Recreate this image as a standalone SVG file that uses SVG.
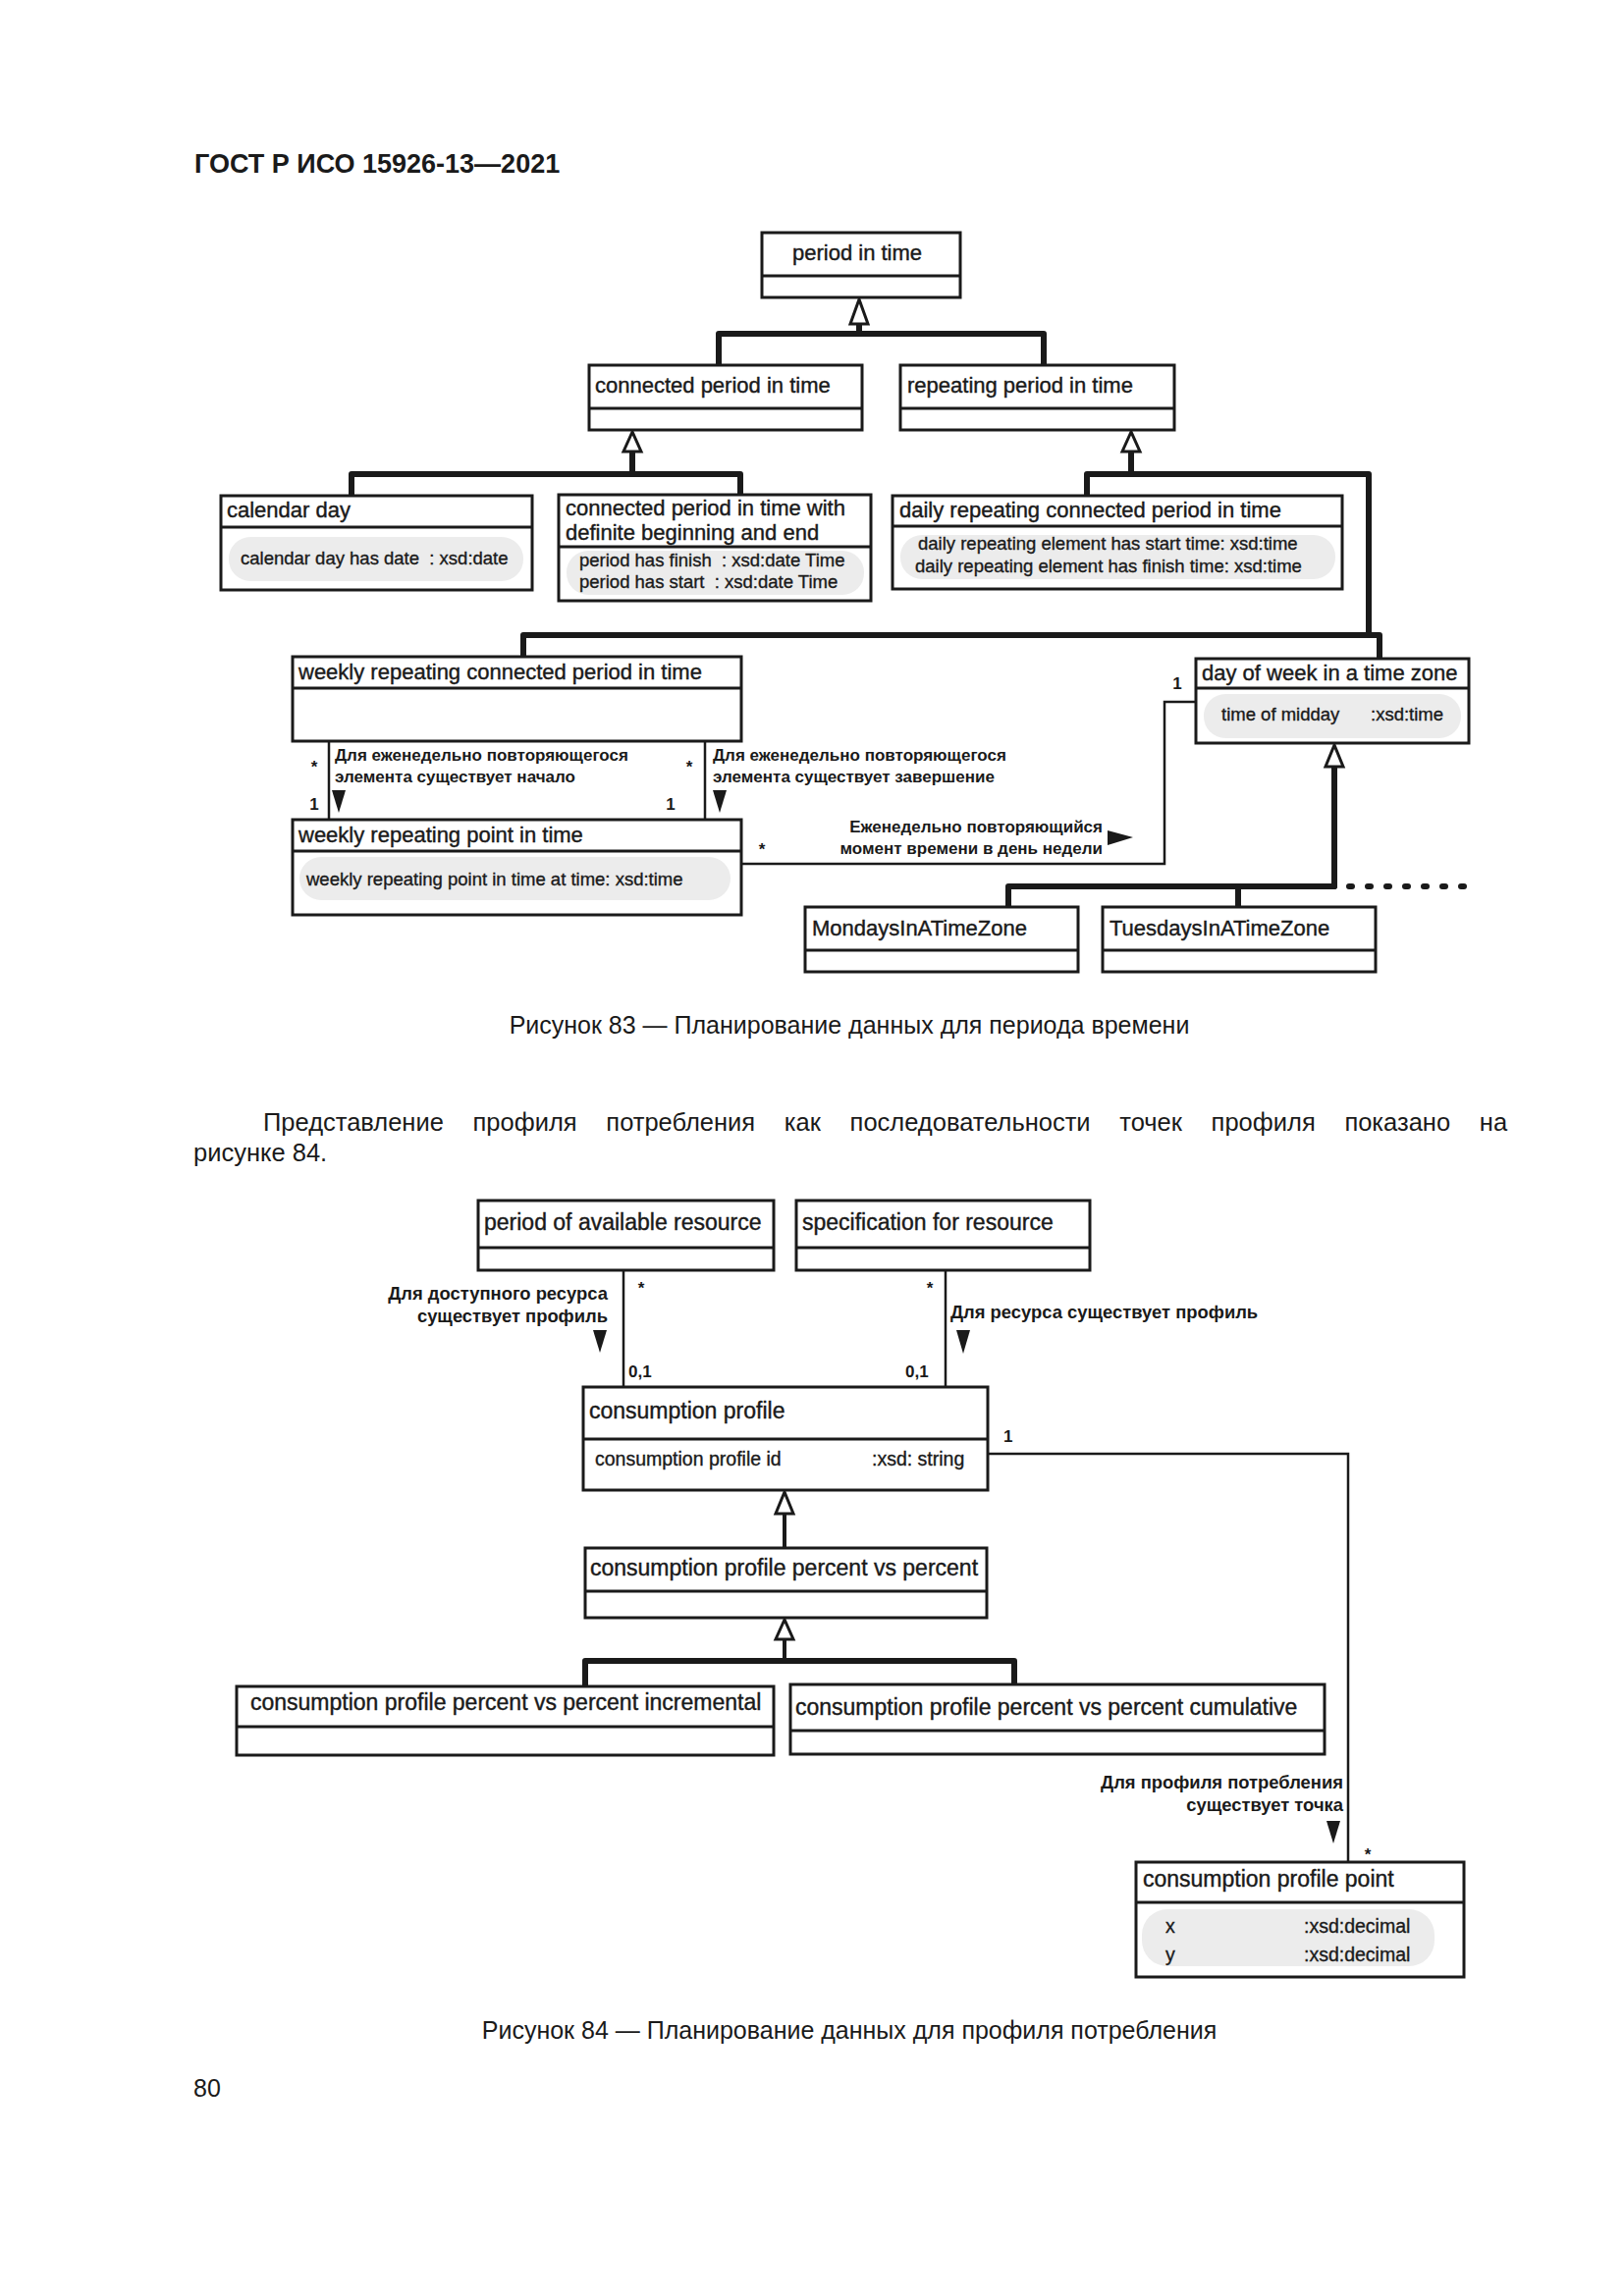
<svg xmlns="http://www.w3.org/2000/svg" width="1654" height="2339" viewBox="0 0 1654 2339">
<style>
.bg{fill:#fff}
.box{fill:#fff;stroke:#1a1a1a;stroke-width:3}
.dv{stroke:#1a1a1a;stroke-width:3}
.abg{fill:#ececec}
text{font-family:"Liberation Sans",Arial,sans-serif;fill:#1a1a1a}
.ttl{font-size:22px;stroke:#1a1a1a;stroke-width:0.4}
.ttl84{font-size:23px;stroke:#1a1a1a;stroke-width:0.4}
.attr{font-size:18.5px;stroke:#1a1a1a;stroke-width:0.35}
.attr84{font-size:19.5px;stroke:#1a1a1a;stroke-width:0.35}
.lbl{font-size:17px;font-weight:bold}
.lbl84{font-size:18.4px;font-weight:bold}
.mult{font-size:17px;font-weight:bold}
.gen{fill:none;stroke:#1a1a1a;stroke-width:6;stroke-linejoin:round;stroke-linecap:round}
.gen4{fill:none;stroke:#1a1a1a;stroke-width:4}
.dots{fill:none;stroke:#1a1a1a;stroke-width:6;stroke-linecap:round;stroke-dasharray:3 16}
.assoc{fill:none;stroke:#1a1a1a;stroke-width:2.5}
.hollow{fill:#fff;stroke:#1a1a1a;stroke-width:3}
.nav{fill:#1a1a1a}
.page{font-size:25px}
.body{font-size:25.5px}
</style>
<rect class="bg" x="0" y="0" width="1654" height="2339"/>
<text x="198" y="176" style="font-size:27px;font-weight:bold">ГОСТ Р ИСО 15926-13—2021</text>

<g id="connectors">
  <!-- figure 83 generalizations -->
  <path class="gen" d="M732,372 V340 H1063 V372"/>
  <path class="gen" d="M875,330 V340"/>
  <polygon class="hollow" points="875,305 866,330 884,330"/>
  <path class="gen" d="M358,505 V483 H754 V505"/>
  <path class="gen" d="M644,460 V483"/>
  <polygon class="hollow" points="644,440 635,460 653,460"/>
  <path class="gen" d="M1107,505 V483 H1394 V647"/>
  <path class="gen" d="M1152,460 V483"/>
  <polygon class="hollow" points="1152,440 1143,460 1161,460"/>
  <path class="gen" d="M533,669 V647 H1405 V671"/>
  <path class="gen" d="M1359,781 V903"/>
  <path class="gen" d="M1027,924 V903 H1359"/>
  <path class="gen" d="M1261,903 V924"/>
  <path class="dots" d="M1374,903 H1500"/>
  <polygon class="hollow" points="1359,759 1350,781 1368,781"/>
  <!-- figure 83 associations -->
  <path class="assoc" d="M335,755 V835"/>
  <path class="assoc" d="M718,755 V835"/>
  <path class="assoc" d="M755,880 H1186 V715 H1218"/>
  <polygon class="nav" points="338,805 352,805 345,828"/>
  <polygon class="nav" points="726,805 740,805 733,828"/>
  <polygon class="nav" points="1128,846 1128,861 1154,853"/>
  <!-- figure 84 associations -->
  <path class="assoc" d="M635,1294 V1413"/>
  <path class="assoc" d="M963,1294 V1413"/>
  <path class="assoc" d="M1006,1481 H1373 V1897"/>
  <polygon class="nav" points="604,1355 618,1355 611,1378"/>
  <polygon class="nav" points="974,1355 988,1355 981,1379"/>
  <polygon class="nav" points="1351,1855 1365,1855 1358,1878"/>
  <!-- figure 84 generalizations -->
  <path class="gen4" d="M799,1542 V1577"/>
  <polygon class="hollow" points="799,1520 790,1542 808,1542"/>
  <path class="gen4" d="M799,1670 V1692"/>
  <path class="gen" d="M596,1718 V1692 H1033 V1716"/>
  <polygon class="hollow" points="799,1650 790,1670 808,1670"/>
</g>

<g id="labels">
  <text class="lbl" x="341" y="775">Для еженедельно повторяющегося</text>
  <text class="lbl" x="341" y="797">элемента существует начало</text>
  <text class="lbl" x="726" y="775">Для еженедельно повторяющегося</text>
  <text class="lbl" x="726" y="797">элемента существует завершение</text>
  <text class="mult" x="320" y="787" text-anchor="middle">*</text>
  <text class="mult" x="320" y="825" text-anchor="middle">1</text>
  <text class="mult" x="702" y="787" text-anchor="middle">*</text>
  <text class="mult" x="683" y="825" text-anchor="middle">1</text>
  <text class="lbl" x="1123" y="848" text-anchor="end">Еженедельно повторяющийся</text>
  <text class="lbl" x="1123" y="870" text-anchor="end">момент времени в день недели</text>
  <text class="mult" x="776" y="871" text-anchor="middle">*</text>
  <text class="mult" x="1199" y="702" text-anchor="middle">1</text>

  <text class="lbl84" x="619" y="1324" text-anchor="end">Для доступного ресурса</text>
  <text class="lbl84" x="619" y="1347" text-anchor="end">существует профиль</text>
  <text class="mult" x="653" y="1318" text-anchor="middle">*</text>
  <text class="mult" x="640" y="1403">0,1</text>
  <text class="mult" x="947" y="1318" text-anchor="middle">*</text>
  <text class="mult" x="922" y="1403">0,1</text>
  <text class="lbl84" x="968" y="1343">Для ресурса существует профиль</text>
  <text class="mult" x="1022" y="1469">1</text>
  <text class="lbl84" x="1368" y="1822" text-anchor="end">Для профиля потребления</text>
  <text class="lbl84" x="1368" y="1845" text-anchor="end">существует точка</text>
  <text class="mult" x="1393" y="1895" text-anchor="middle">*</text>
</g>

<g id="period-in-time">
  <rect class="box" x="776" y="237" width="202" height="66"/>
  <line class="dv" x1="776" y1="281" x2="978" y2="281"/>
  <text class="ttl" x="807" y="265">period in time</text>
</g>
<g id="connected-period-in-time">
  <rect class="box" x="600" y="372" width="278" height="66"/>
  <line class="dv" x1="600" y1="416" x2="878" y2="416"/>
  <text class="ttl" x="606" y="400">connected period in time</text>
</g>
<g id="repeating-period-in-time">
  <rect class="box" x="917" y="372" width="279" height="66"/>
  <line class="dv" x1="917" y1="416" x2="1196" y2="416"/>
  <text class="ttl" x="924" y="400">repeating period in time</text>
</g>
<g id="calendar-day">
  <rect class="box" x="225" y="505" width="317" height="96"/>
  <line class="dv" x1="225" y1="537" x2="542" y2="537"/>
  <text class="ttl" x="231" y="527">calendar day</text>
  <rect class="abg" x="233" y="547" width="300" height="45" rx="22"/>
  <text class="attr" x="245" y="575" xml:space="preserve">calendar day has date  : xsd:date</text>
</g>
<g id="connected-period-definite">
  <rect class="box" x="569" y="504" width="318" height="108"/>
  <line class="dv" x1="569" y1="557" x2="887" y2="557"/>
  <text class="ttl" x="576" y="525">connected period in time with</text>
  <text class="ttl" x="576" y="550">definite beginning and end</text>
  <rect class="abg" x="577" y="561" width="303" height="45" rx="22"/>
  <text class="attr" x="590" y="577" xml:space="preserve">period has finish  : xsd:date Time</text>
  <text class="attr" x="590" y="599" xml:space="preserve">period has start  : xsd:date Time</text>
</g>
<g id="daily-repeating">
  <rect class="box" x="909" y="505" width="458" height="95"/>
  <line class="dv" x1="909" y1="536" x2="1367" y2="536"/>
  <text class="ttl" x="916" y="527">daily repeating connected period in time</text>
  <rect class="abg" x="917" y="545" width="443" height="45" rx="22"/>
  <text class="attr" x="935" y="560">daily repeating element has start time: xsd:time</text>
  <text class="attr" x="932" y="583">daily repeating element has finish time: xsd:time</text>
</g>
<g id="weekly-repeating-connected">
  <rect class="box" x="298" y="669" width="457" height="86"/>
  <line class="dv" x1="298" y1="701" x2="755" y2="701"/>
  <text class="ttl" x="304" y="692">weekly repeating connected period in time</text>
</g>
<g id="day-of-week">
  <rect class="box" x="1218" y="671" width="278" height="86"/>
  <line class="dv" x1="1218" y1="701" x2="1496" y2="701"/>
  <text class="ttl" x="1224" y="693">day of week in a time zone</text>
  <rect class="abg" x="1226" y="707" width="262" height="45" rx="22"/>
  <text class="attr" x="1244" y="734">time of midday</text>
  <text class="attr" x="1396" y="734">:xsd:time</text>
</g>
<g id="weekly-repeating-point">
  <rect class="box" x="298" y="835" width="457" height="97"/>
  <line class="dv" x1="298" y1="867" x2="755" y2="867"/>
  <text class="ttl" x="304" y="858">weekly repeating point in time</text>
  <rect class="abg" x="305" y="873" width="439" height="44" rx="22"/>
  <text class="attr" x="312" y="902">weekly repeating point in time at time: xsd:time</text>
</g>
<g id="mondays">
  <rect class="box" x="820" y="924" width="278" height="66"/>
  <line class="dv" x1="820" y1="968" x2="1098" y2="968"/>
  <text class="ttl" x="827" y="953">MondaysInATimeZone</text>
</g>
<g id="tuesdays">
  <rect class="box" x="1123" y="924" width="278" height="66"/>
  <line class="dv" x1="1123" y1="968" x2="1401" y2="968"/>
  <text class="ttl" x="1130" y="953">TuesdaysInATimeZone</text>
</g>

<text x="865" y="1053" text-anchor="middle" style="font-size:25px">Рисунок 83 — Планирование данных для периода времени</text>

<text class="body" x="268" y="1152" style="word-spacing:22.6px">Представление профиля потребления как последовательности точек профиля показано на</text>
<text class="body" x="197" y="1183">рисунке 84.</text>

<g id="period-of-available-resource">
  <rect class="box" x="487" y="1223" width="301" height="71"/>
  <line class="dv" x1="487" y1="1271" x2="788" y2="1271"/>
  <text class="ttl84" x="493" y="1253">period of available resource</text>
</g>
<g id="specification-for-resource">
  <rect class="box" x="811" y="1223" width="299" height="71"/>
  <line class="dv" x1="811" y1="1271" x2="1110" y2="1271"/>
  <text class="ttl84" x="817" y="1253">specification for resource</text>
</g>
<g id="consumption-profile">
  <rect class="box" x="594" y="1413" width="412" height="105"/>
  <line class="dv" x1="594" y1="1466" x2="1006" y2="1466"/>
  <text class="ttl84" x="600" y="1445">consumption profile</text>
  <text class="attr84" x="606" y="1493">consumption profile id</text>
  <text class="attr84" x="888" y="1493">:xsd: string</text>
</g>
<g id="cp-percent-vs-percent">
  <rect class="box" x="596" y="1577" width="409" height="71"/>
  <line class="dv" x1="596" y1="1621" x2="1005" y2="1621"/>
  <text class="ttl84" x="601" y="1605">consumption profile percent vs percent</text>
</g>
<g id="cp-incremental">
  <rect class="box" x="241" y="1718" width="547" height="70"/>
  <line class="dv" x1="241" y1="1759" x2="788" y2="1759"/>
  <text class="ttl84" x="255" y="1742">consumption profile percent vs percent incremental</text>
</g>
<g id="cp-cumulative">
  <rect class="box" x="805" y="1716" width="544" height="71"/>
  <line class="dv" x1="805" y1="1763" x2="1349" y2="1763"/>
  <text class="ttl84" x="810" y="1747">consumption profile percent vs percent cumulative</text>
</g>
<g id="consumption-profile-point">
  <rect class="box" x="1157" y="1897" width="334" height="117"/>
  <line class="dv" x1="1157" y1="1938" x2="1491" y2="1938"/>
  <text class="ttl84" x="1164" y="1922">consumption profile point</text>
  <rect class="abg" x="1163" y="1945" width="298" height="58" rx="26"/>
  <text class="attr84" x="1187" y="1969">x</text>
  <text class="attr84" x="1328" y="1969">:xsd:decimal</text>
  <text class="attr84" x="1187" y="1998">y</text>
  <text class="attr84" x="1328" y="1998">:xsd:decimal</text>
</g>

<text x="865" y="2077" text-anchor="middle" style="font-size:25px">Рисунок 84 — Планирование данных для профиля потребления</text>
<text class="page" x="197" y="2136">80</text>
</svg>
